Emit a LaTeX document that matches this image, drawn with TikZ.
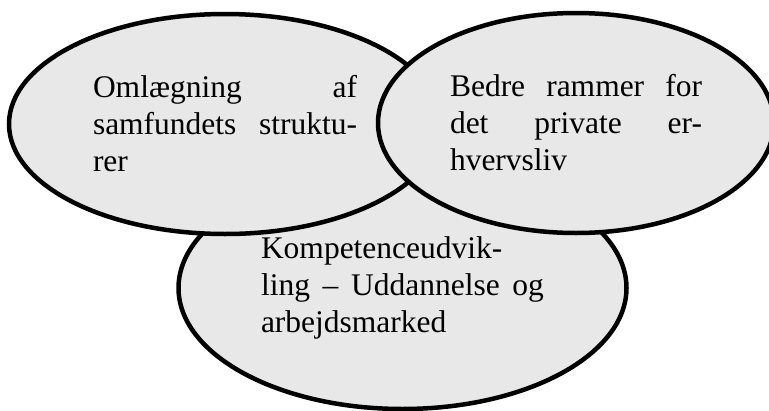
\documentclass[tikz,border=0pt]{standalone}
\usepackage{fontspec}
\setmainfont{Liberation Serif}
\usetikzlibrary{shapes.geometric}
\definecolor{blobfill}{HTML}{E8E8E8}
\tolerance=10000
\hbadness=10000
\newcommand{\blobfont}{\fontsize{31.5}{37}\selectfont}

\begin{document}
\begin{tikzpicture}[x=1pt, y=-1pt,
		blob/.style={ellipse, draw=black, line width=4.5pt, fill=blobfill, inner sep=0pt},
		blobtext/.style={text width=#1, align=justify, font=\blobfont}]
	\useasboundingbox (0,0) rectangle (769,410);

	% bottom circle, behind the other two
	\node[blob, blobtext=283pt, minimum width=448pt, minimum height=242pt] (skills) at (402.5,288)
		{Kompetenceudvik-\linebreak ling -- Uddannelse og\linebreak arbejdsmarked};

	% top left
	\node[blob, blobtext=264pt, minimum width=432pt, minimum height=220pt] (structures) at (225,124)
		{Omlægning af\linebreak samfundets struktu-\linebreak rer};

	% top right
	\node[blob, blobtext=252pt, minimum width=396pt, minimum height=220pt] (business) at (576,123)
		{Bedre rammer for\linebreak det private er-\linebreak hvervsliv};
\end{tikzpicture}
\end{document}
